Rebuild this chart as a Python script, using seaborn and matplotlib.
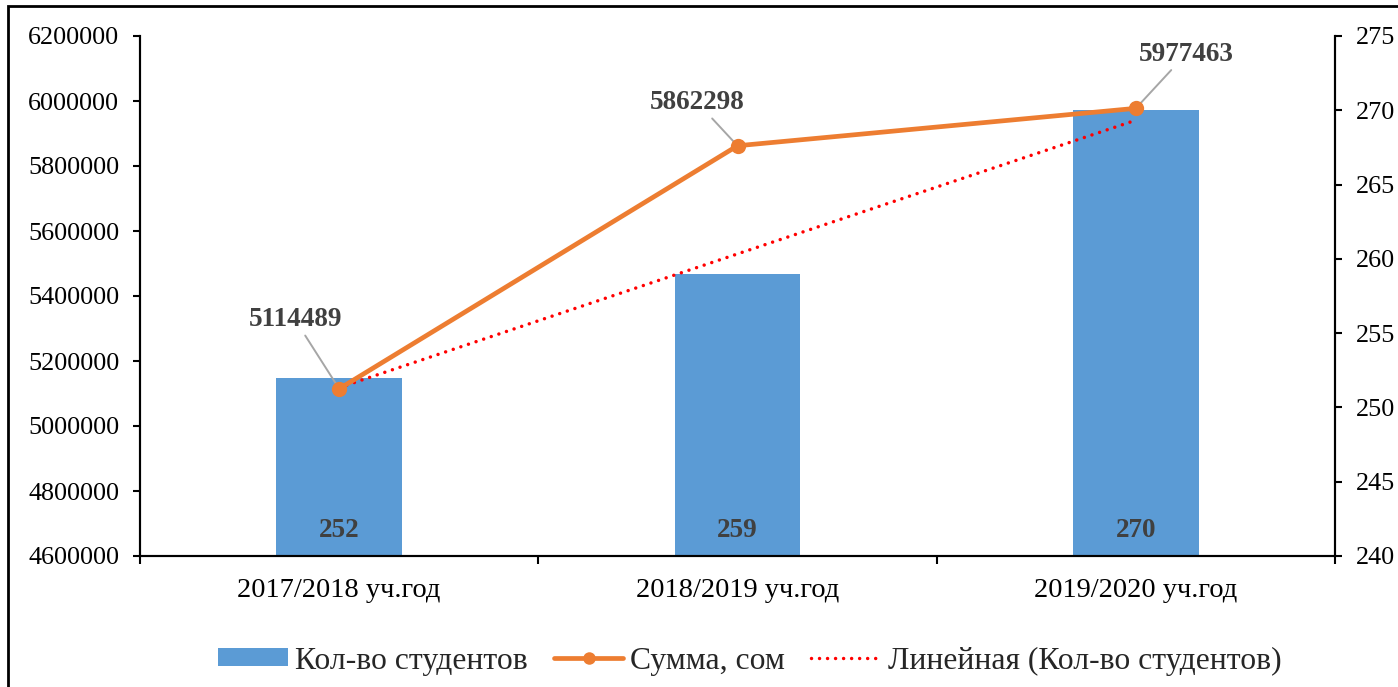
import numpy as np
import pandas as pd
import matplotlib
matplotlib.use("Agg")
import matplotlib.pyplot as plt
from matplotlib.patches import Patch, Rectangle
from matplotlib.lines import Line2D
import seaborn as sns

categories = ["2017/2018 уч.год", "2018/2019 уч.год", "2019/2020 уч.год"]
students = [252, 259, 270]
amounts = [5114489, 5862298, 5977463]
left_ticks = [4600000, 4800000, 5000000, 5200000, 5400000, 5600000, 5800000, 6000000, 6200000]
right_ticks = [240, 245, 250, 255, 260, 265, 270, 275]
legend_labels = ["Кол-во студентов", "Сумма, сом", "Линейная (Кол-во студентов)"]

BAR = "#5B9BD5"
ORANGE = "#ED7D31"
TREND = "#FF0000"
LABEL = "#404040"
DOTS = (0, (0.01, 2.3))

sns.set_theme(style="white")
plt.rcParams["font.family"] = ["Liberation Serif", "DejaVu Serif"]

df = pd.DataFrame({"cat": categories, "students": students, "amount": amounts})
pos = np.arange(len(categories))

fig = plt.figure(figsize=(13.98, 6.87), dpi=100)
ax = fig.add_axes([140/1398, 1-556/687, (1335-140)/1398, (556-36)/687])
ax2 = ax.twinx()

# bars on right-scale axis (primary), ticks on right
sns.barplot(data=df, x="cat", y="students", color=BAR, width=0.315, ax=ax,
            saturation=1, edgecolor="none", zorder=2)
ax.set_ylim(240, 275)
ax.set_xlim(-0.5, 2.5)

# linear trend of students
coef = np.polyfit(pos, students, 1)
trend = np.polyval(coef, pos)
ax.plot(pos, trend, linestyle=DOTS, color=TREND, lw=2.5, zorder=3,
        dash_capstyle="round")

# bar value labels
for i, v in enumerate(students):
    ax.annotate(str(v), xy=(pos[i], 240), xytext=(0, 18.5), textcoords="offset points",
                ha="center", va="center", fontsize=19.5, fontweight="bold", color=LABEL)

# amount line on left-scale axis
sns.lineplot(x=pos, y=amounts, ax=ax2, color=ORANGE, lw=3.4, marker="o",
             markersize=11, markeredgewidth=0, zorder=4)
ax2.set_ylim(4600000, 6200000)

offsets = [(-31.7, 49.7), (-28.8, 31.0), (36.0, 38.9)]
for i, v in enumerate(amounts):
    ax2.annotate(str(v), xy=(pos[i], v), xytext=offsets[i], textcoords="offset points",
                 ha="center", va="center", fontsize=19.5, fontweight="bold", color=LABEL,
                 arrowprops=dict(arrowstyle="-", color="#A6A6A6", lw=1.4,
                                 shrinkA=0, shrinkB=0))

# axes styling
ax.yaxis.tick_right()
ax.yaxis.set_label_position("right")
ax2.yaxis.tick_left()
ax2.yaxis.set_label_position("left")
ax.set_yticks(right_ticks)
ax.set_yticklabels([str(t) for t in right_ticks])
ax2.set_yticks(left_ticks)
ax2.set_yticklabels([str(t) for t in left_ticks])
ax.set_xlabel("")
ax.set_ylabel("")
ax2.set_ylabel("")

ax.set_xticks([-0.5, 0.5, 1.5, 2.5])
ax.set_xticklabels(["", "", "", ""])
ax.set_xticks(pos, minor=True)
ax.set_xticklabels(categories, minor=True)
ax.tick_params(axis="x", which="major", direction="out", length=6, width=1.5,
               color="black", bottom=True)
ax.tick_params(axis="x", which="minor", length=0, pad=16, labelsize=20.5,
               labelcolor="black")
ax.tick_params(axis="y", direction="out", length=5, width=1.5, color="black",
               right=True, left=False, labelright=True, labelleft=False,
               pad=10, labelsize=18.8, labelcolor="black")
ax2.tick_params(axis="y", direction="out", length=5, width=1.5, color="black",
                left=True, right=False, labelleft=True, labelright=False,
                pad=10, labelsize=18.8, labelcolor="black")

for a in (ax, ax2):
    a.spines["top"].set_visible(False)
    for s in ("left", "right", "bottom"):
        a.spines[s].set_color("black")
        a.spines[s].set_linewidth(1.5)
    a.grid(False)
    a.set_facecolor("none")

# legend
handles = [
    Patch(facecolor=BAR, edgecolor="none"),
    Line2D([0], [0], color=ORANGE, lw=3.4, marker="o", markersize=9, markeredgewidth=0),
    Line2D([0], [0], color=TREND, lw=2.5, linestyle=DOTS, dash_capstyle="round"),
]
fig.legend(handles, legend_labels, loc="center", bbox_to_anchor=(750/1398, 1-661/687),
           ncol=3, frameon=False, fontsize=22.8, handlelength=2.2, handleheight=0.5,
           handletextpad=0.22, columnspacing=0.82)

# outer chart border (partially cropped)
fig.add_artist(Rectangle((8/1398, -0.2), 1.2, 1.2 - 6/687, transform=fig.transFigure,
                         fill=False, edgecolor="black", lw=2))

fig.savefig("out.png", dpi=100)
